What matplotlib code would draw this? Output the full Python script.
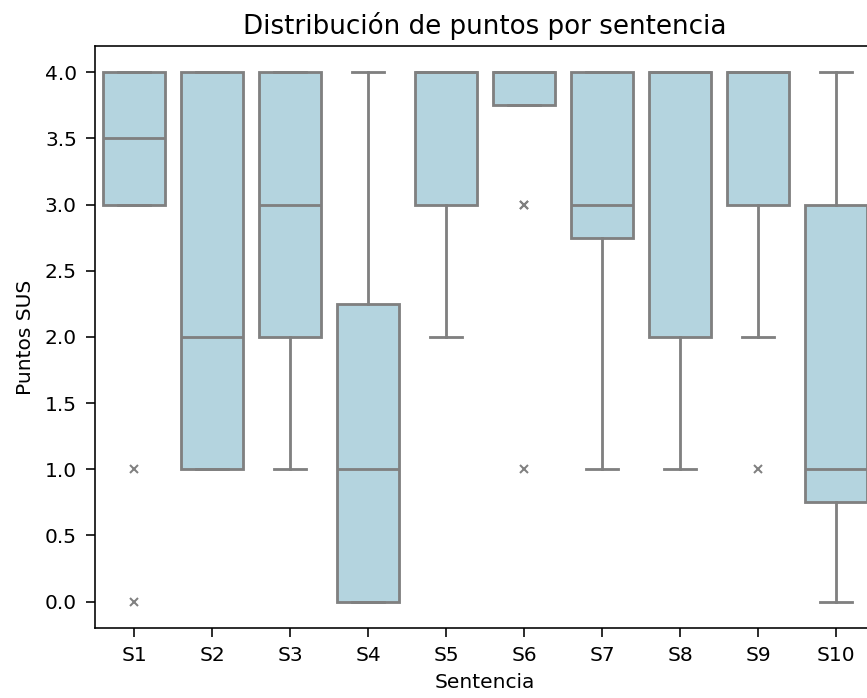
import matplotlib
matplotlib.use('Agg')
from matplotlib import pyplot as plt

# puntos SUS por sentencia (12 respuestas)
sentences = ['S1', 'S2', 'S3', 'S4', 'S5', 'S6', 'S7', 'S8', 'S9', 'S10']
s1 = [0, 1, 3, 3, 3, 3, 4, 4, 4, 4, 4, 4]
s2 = [1, 1, 1, 1, 2, 2, 2, 3, 4, 4, 4, 4]
s3 = [1, 2, 2, 2, 3, 3, 3, 3, 4, 4, 4, 4]
s4 = [0, 0, 0, 0, 1, 1, 1, 2, 2, 3, 4, 4]
s5 = [2, 3, 3, 3, 3, 4, 4, 4, 4, 4, 4, 4]
s6 = [1, 3, 3, 4, 4, 4, 4, 4, 4, 4, 4, 4]
s7 = [1, 2, 2, 3, 3, 3, 3, 4, 4, 4, 4, 4]
s8 = [1, 2, 2, 2, 3, 4, 4, 4, 4, 4, 4, 4]
s9 = [1, 2, 3, 3, 4, 4, 4, 4, 4, 4, 4, 4]
s10 = [0, 0, 0, 1, 1, 1, 1, 2, 3, 3, 4, 4]
values = [s1, s2, s3, s4, s5, s6, s7, s8, s9, s10]

dpi = 145
fig = plt.figure(figsize=(867 / dpi, 698 / dpi), dpi=dpi)
ax = fig.add_axes([0.1096, 0.1003, 0.8997, 0.834])

edge = '#808080'
lw = 1.4
ax.boxplot(values, positions=range(len(values)), widths=0.8, patch_artist=True,
           boxprops=dict(facecolor='#b4d4df', edgecolor=edge, linewidth=lw),
           medianprops=dict(color=edge, linewidth=lw),
           whiskerprops=dict(color=edge, linewidth=lw),
           capprops=dict(color=edge, linewidth=lw),
           flierprops=dict(marker='x', markeredgecolor=edge, markersize=4,
                           markeredgewidth=1))

ax.set_xticks(range(len(sentences)))
ax.set_xticklabels(sentences)
ax.set_xlim(-0.5, len(sentences) - 0.5)
ax.set_ylim(-0.2, 4.2)
ax.tick_params(length=4.5, pad=4.5)
ax.set_title('Distribución de puntos por sentencia', fontsize=13)
ax.set_xlabel('Sentencia')
ax.set_ylabel('Puntos SUS', labelpad=5)

plt.savefig('out.png', dpi=dpi)
